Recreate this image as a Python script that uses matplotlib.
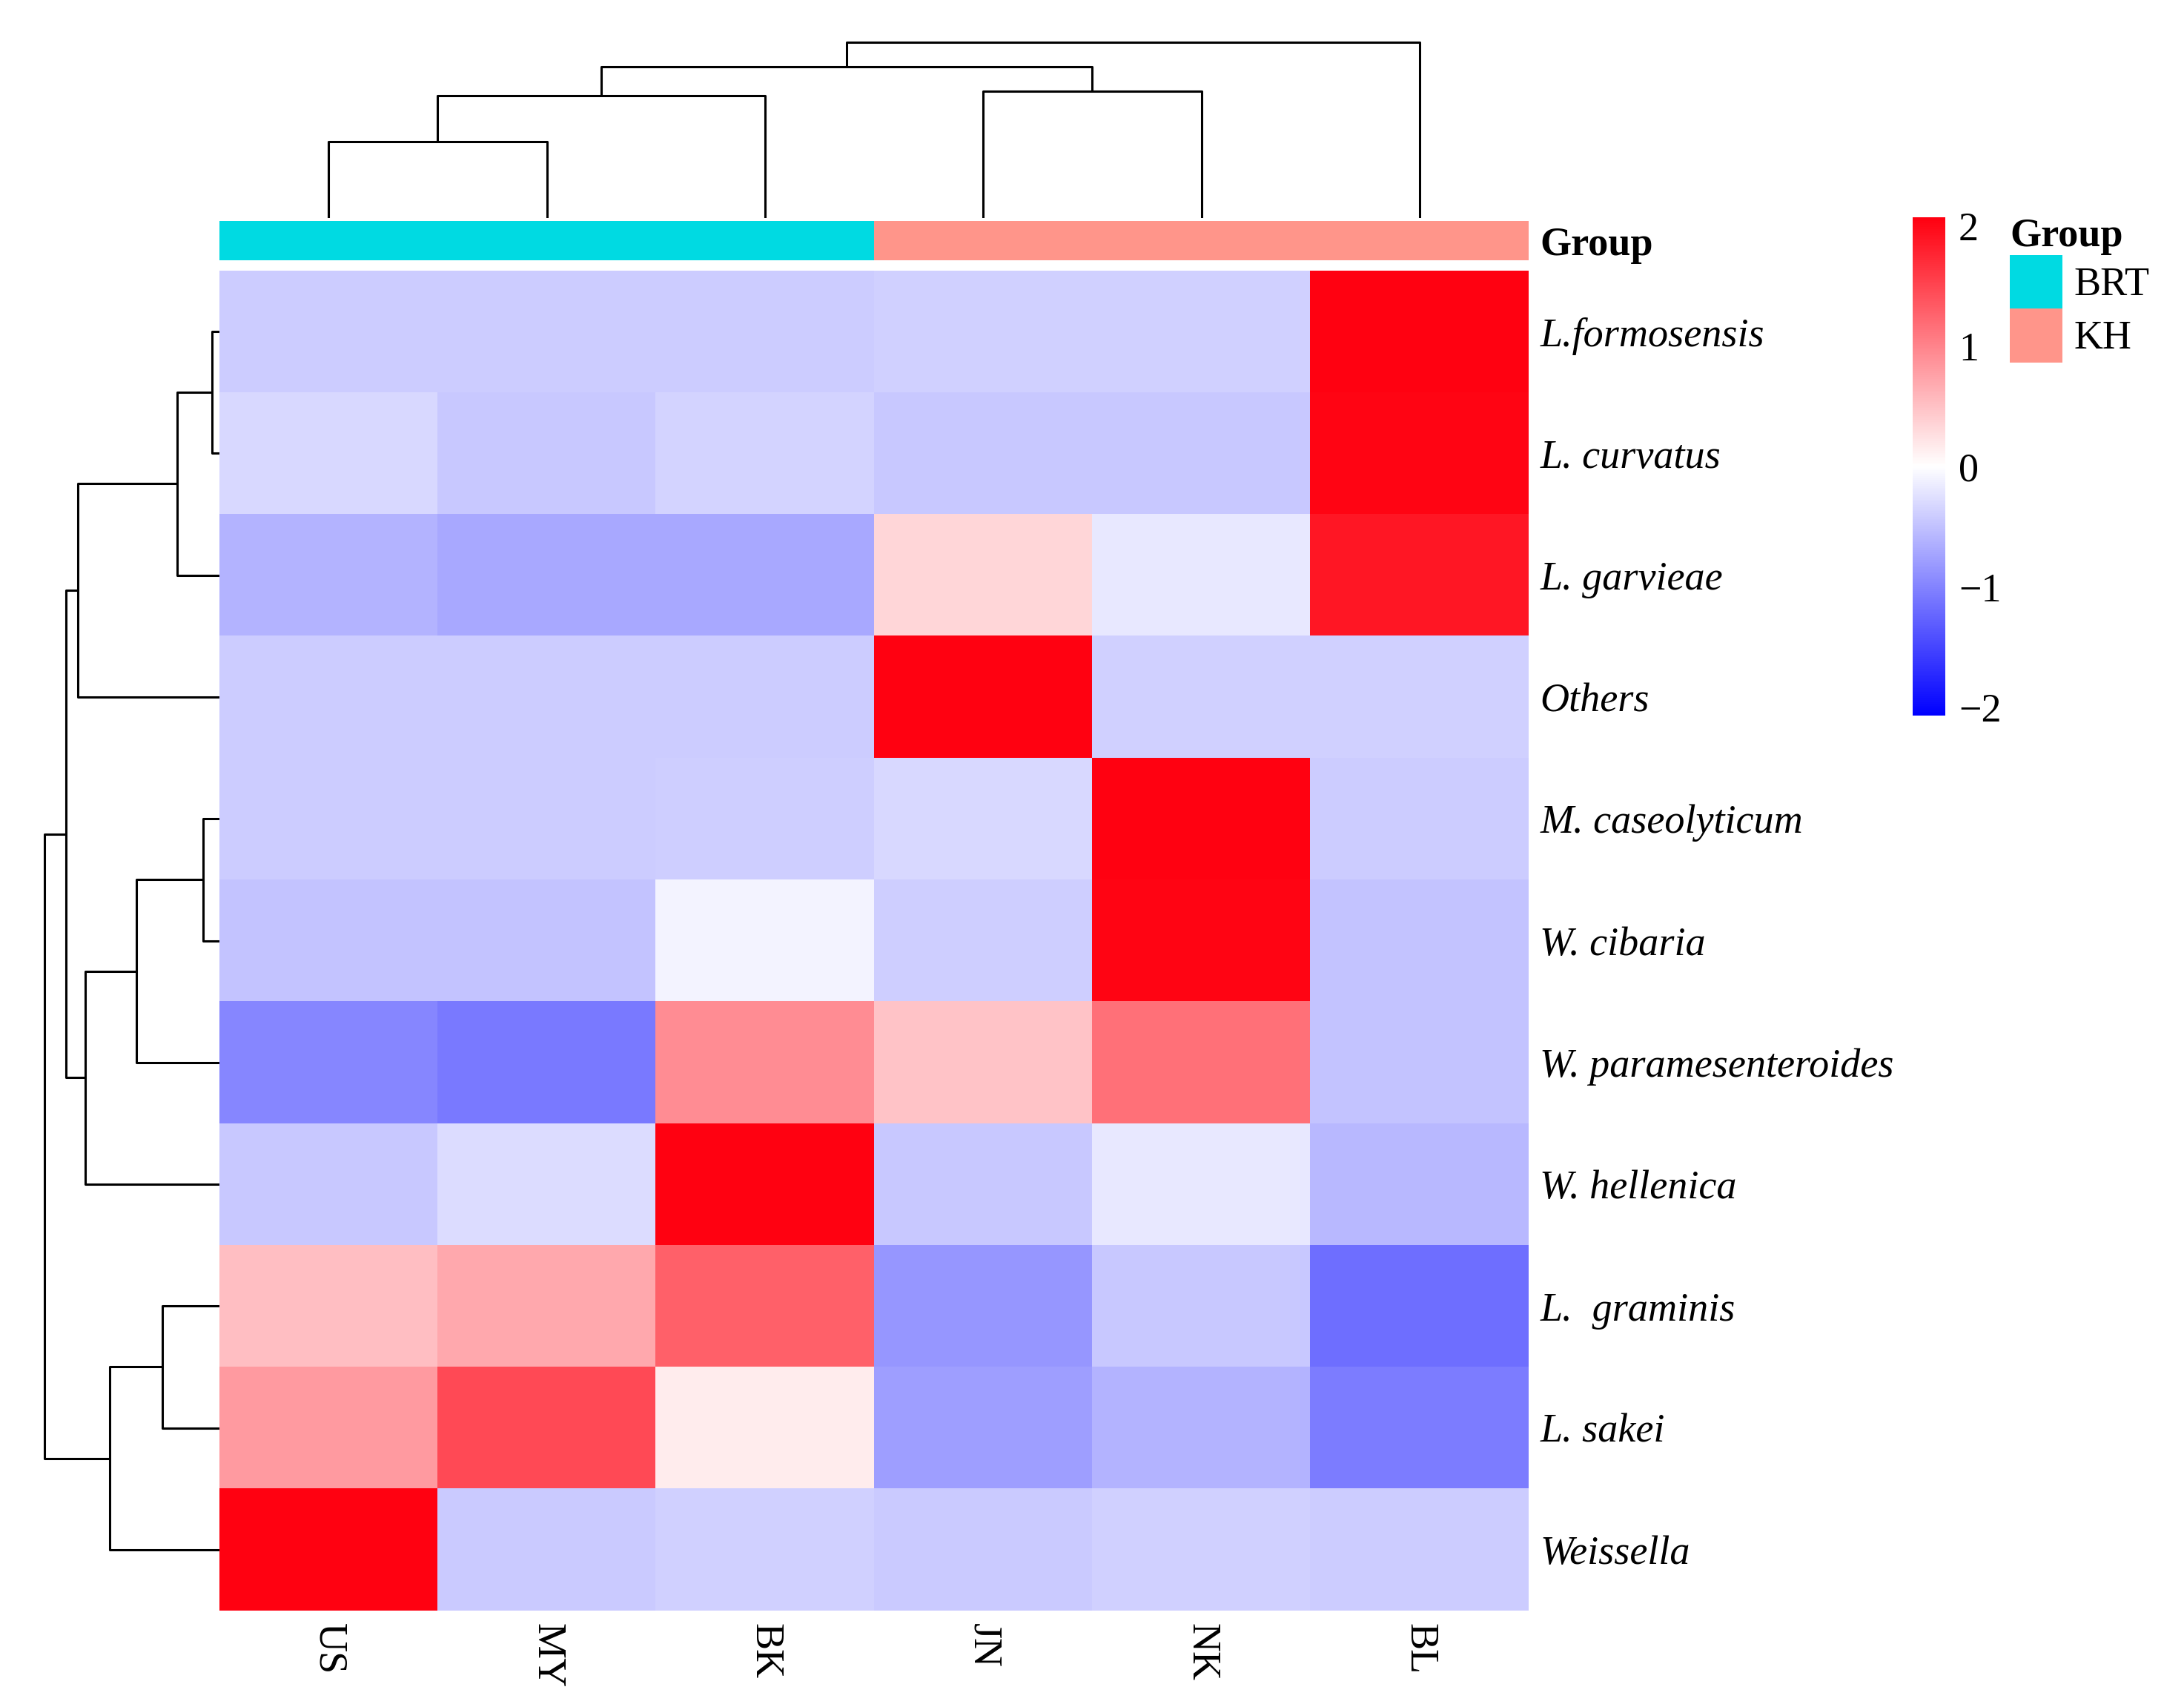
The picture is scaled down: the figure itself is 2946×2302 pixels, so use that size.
import numpy as np
import matplotlib
matplotlib.use("Agg")
import matplotlib.pyplot as plt
from matplotlib.colors import LinearSegmentedColormap, ListedColormap, Normalize
from matplotlib.cm import ScalarMappable
from matplotlib.patches import Patch

plt.rcParams['font.family'] = ['Liberation Serif', 'DejaVu Serif']

# columns in dendrogram order
samples = ["US", "MY", "BK", "JN", "NK", "BL"]
sample_group = ["BRT", "BRT", "BRT", "KH", "KH", "KH"]
group_names = ["BRT", "KH"]
group_colors = ["#00DAE2", "#FF958A"]

# rows in dendrogram order
taxa = ["L.formosensis", "L. curvatus", "L. garvieae", "Others",
        "M. caseolyticum", "W. cibaria", "W. paramesenteroides",
        "W. hellenica", "L.  graminis", "L. sakei", "Weissella"]

# row z-scores
z_lform  = [-0.42, -0.42, -0.42, -0.38, -0.38,  2.04]
z_lcurv  = [-0.31, -0.45, -0.34, -0.45, -0.45,  2.03]
z_lgarv  = [-0.60, -0.71, -0.71,  0.33, -0.18,  1.88]
z_other  = [-0.42, -0.42, -0.42,  2.04, -0.38, -0.38]
z_mcase  = [-0.42, -0.42, -0.40, -0.31,  2.04, -0.42]
z_wciba  = [-0.48, -0.48, -0.09, -0.40,  2.03, -0.48]
z_wpara  = [-0.98, -1.08,  0.93,  0.48,  1.15, -0.48]
z_whell  = [-0.45, -0.29,  2.04, -0.45, -0.18, -0.58]
z_lgram  = [ 0.53,  0.71,  1.29, -0.85, -0.45, -1.18]
z_lsake  = [ 0.82,  1.47,  0.16, -0.78, -0.60, -1.06]
z_weiss  = [ 2.04, -0.43, -0.38, -0.43, -0.38, -0.42]

# linkage: (child a, child b, height); new clusters numbered from n upward
col_merges = [(0, 1, 103), (6, 2, 165), (3, 4, 171), (7, 8, 204), (9, 5, 237)]
row_merges = [(0, 1, 10), (11, 2, 57), (12, 3, 191), (4, 5, 22), (14, 6, 112),
              (15, 7, 181), (13, 16, 207), (8, 9, 77), (18, 10, 148), (17, 19, 236)]

data = np.array([z_lform, z_lcurv, z_lgarv, z_other, z_mcase, z_wciba,
                 z_wpara, z_whell, z_lgram, z_lsake, z_weiss])

W, H = 2946, 2302
fig = plt.figure(figsize=(W / 100, H / 100), dpi=100)


def box(x0, y0, x1, y1):
    # pixel box (top-left origin) -> figure fraction rect
    return [x0 / W, 1 - y1 / H, (x1 - x0) / W, (y1 - y0) / H]


def draw_dendro(ax, merges, n, orient):
    pos = {i: i + 0.5 for i in range(n)}
    hgt = {i: 0.0 for i in range(n)}
    for k, (a, b, h) in enumerate(merges):
        xs = [pos[a], pos[a], pos[b], pos[b]]
        ys = [hgt[a], h, h, hgt[b]]
        if orient == "top":
            ax.plot(xs, ys, color="black", lw=2.2, solid_capstyle="butt")
        else:
            ax.plot(ys, xs, color="black", lw=2.2, solid_capstyle="butt")
        pos[n + k] = (pos[a] + pos[b]) / 2
        hgt[n + k] = h
    ax.axis("off")


cmap = LinearSegmentedColormap.from_list("bwr2", ["#0000FF", "#FFFFFF", "#FF0010"])
norm = Normalize(vmin=-2.07, vmax=2.07)

HM_L, HM_R = 296, 2062

# heatmap
ax = fig.add_axes(box(HM_L, 365, HM_R, 2172))
ax.imshow(data, cmap=cmap, norm=norm, aspect="auto", interpolation="nearest",
          extent=(0, len(samples), len(taxa), 0))
ax.set_xticks(np.arange(len(samples)) + 0.5)
ax.set_xticklabels(samples, rotation=270, fontsize=39)
ax.set_yticks(np.arange(len(taxa)) + 0.5)
ax.set_yticklabels(taxa, fontsize=39, style="italic")
ax.yaxis.tick_right()
ax.tick_params(length=0)
ax.tick_params(axis="x", pad=12)
ax.tick_params(axis="y", pad=11)
for s in ax.spines.values():
    s.set_visible(False)

# group annotation bar
axg = fig.add_axes(box(HM_L, 298, HM_R, 351))
gidx = np.array([[group_names.index(g) for g in sample_group]])
axg.imshow(gidx, cmap=ListedColormap(group_colors), aspect="auto",
           interpolation="nearest", extent=(0, len(samples), 1, 0), vmin=0, vmax=1)
axg.set_xticks([])
axg.set_yticks([0.5])
axg.set_yticklabels(["Group"], fontsize=39, fontweight="bold")
axg.yaxis.tick_right()
axg.tick_params(length=0, pad=11)
for s in axg.spines.values():
    s.set_visible(False)

# column dendrogram
axt = fig.add_axes(box(HM_L, 50, HM_R, 294))
draw_dendro(axt, col_merges, len(samples), "top")
axt.set_xlim(0, len(samples))
axt.set_ylim(0, 244)

# row dendrogram
axl = fig.add_axes(box(50, 365, 296, 2172))
draw_dendro(axl, row_merges, len(taxa), "left")
axl.set_ylim(len(taxa), 0)
axl.set_xlim(246, 0)

# colour bar
cax = fig.add_axes(box(2580, 293, 2624, 965))
cb = fig.colorbar(ScalarMappable(norm=norm, cmap=cmap), cax=cax, ticks=[-2, -1, 0, 1, 2])
cb.outline.set_visible(False)
cax.tick_params(length=0, labelsize=39, pad=13)

# group legend
handles = [Patch(facecolor=c, edgecolor="none", label=g) for g, c in zip(group_names, group_colors)]
fig.legend(handles=handles, title="Group", loc="upper left",
           bbox_to_anchor=(2711 / W, 1 - 294 / H), frameon=False, fontsize=39,
           title_fontproperties={"weight": "bold", "size": 39},
           handlelength=1.31, handleheight=1.68, labelspacing=0, handletextpad=0.28,
           borderaxespad=0, borderpad=0, alignment="left")

fig.savefig("out.png", dpi=100, facecolor="white")
